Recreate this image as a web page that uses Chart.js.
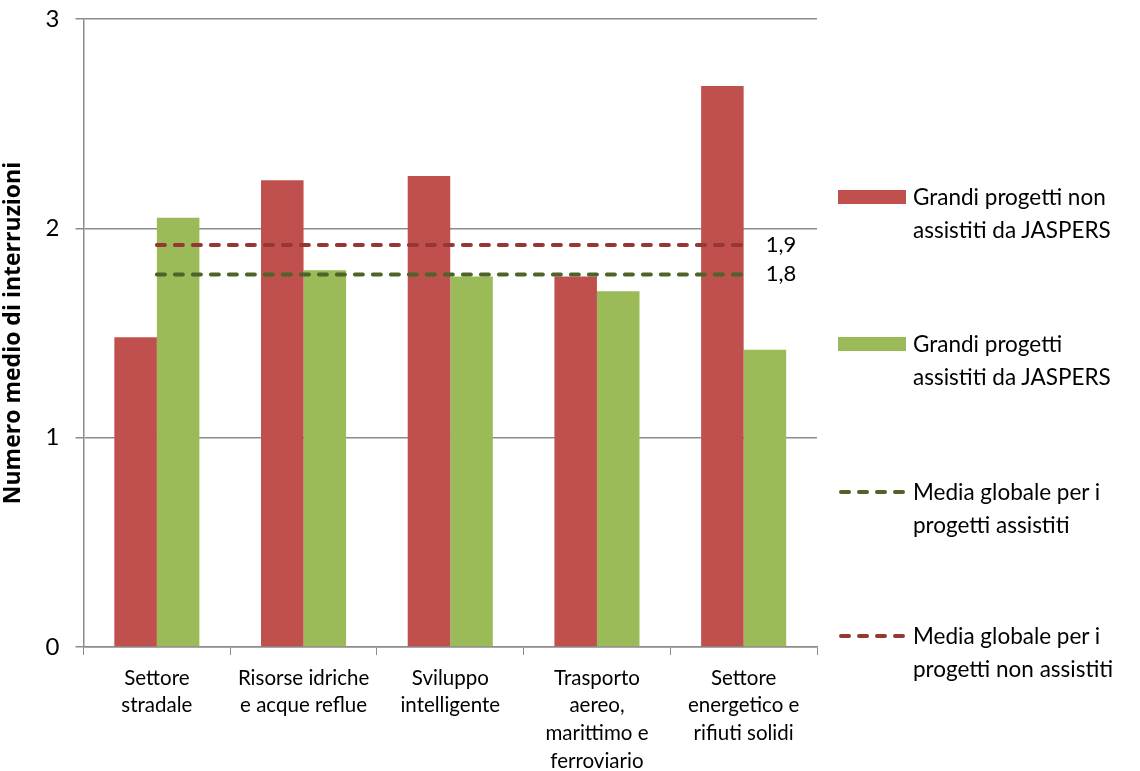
<!DOCTYPE html>
<html lang="it">

<head>
    <meta charset="UTF-8">
    <title>Numero medio di interruzioni</title>
    <script src="https://cdn.jsdelivr.net/npm/chart.js"></script>
    <style>
        body { margin: 0; background: #fff; }
        .wrap { position: relative; width: 1140px; height: 771px; overflow: hidden; }
        .legend { position: absolute; left: 838px; top: 0; font-family: Lato, sans-serif; font-size: 22.5px; color: #000; }
        .legend .item { position: absolute; left: 0; width: 302px; display: flex; align-items: flex-start; }
        .legend .sw { width: 68px; flex: none; margin-right: 7px; }
        .legend .txt { line-height: 33px; white-space: nowrap; }
    </style>
</head>

<body>
    <div class="wrap">
        <canvas id="chart" width="1140" height="771"></canvas>
        <div class="legend" id="legend"></div>
    </div>

    <script>
        // categories and values
        const categories = [
            ['Settore', 'stradale'],
            ['Risorse idriche', 'e acque reflue'],
            ['Sviluppo', 'intelligente'],
            ['Trasporto', 'aereo,', 'marittimo e', 'ferroviario'],
            ['Settore', 'energetico e', 'rifiuti solidi']
        ];
        const nonAssisted = [1.48, 2.23, 2.25, 1.77, 2.68];
        const assisted = [2.05, 1.80, 1.77, 1.70, 1.42];
        const avgAssisted = 1.78;
        const avgNonAssisted = 1.92;
        const yTicks = [0, 1, 2, 3];

        const legendLabels = [
            ['Grandi progetti non', 'assistiti da JASPERS'],
            ['Grandi progetti', 'assistiti da JASPERS'],
            ['Media globale per i', 'progetti assistiti'],
            ['Media globale per i', 'progetti non assistiti']
        ];

        const RED = '#C0504D', GREEN = '#9BBB59';
        const DRED = '#953735', DGREEN = '#4F6228';
        const AXIS = '#8C8C8C';

        // writes "1,9" / "1,8" right after the end of each dashed line
        const endLabels = {
            id: 'endLabels',
            afterDatasetsDraw(chart) {
                const ctx = chart.ctx;
                ctx.save();
                ctx.font = '22px Lato, sans-serif';
                ctx.fillStyle = '#000';
                ctx.textBaseline = 'middle';
                chart.data.datasets.forEach((ds, i) => {
                    if (ds.type !== 'line') return;
                    const pts = chart.getDatasetMeta(i).data;
                    const last = pts[pts.length - 1];
                    const v = ds.data[ds.data.length - 1];
                    ctx.fillText(v.toFixed(1).replace('.', ','), last.x + 22, last.y);
                });
                ctx.restore();
            }
        };

        const ctx = document.getElementById('chart').getContext('2d');
        const chart = new Chart(ctx, {
            type: 'bar',
            data: {
                labels: categories,
                datasets: [
                    {
                        label: legendLabels[0].join(' '),
                        data: nonAssisted,
                        backgroundColor: RED,
                        order: 2
                    },
                    {
                        label: legendLabels[1].join(' '),
                        data: assisted,
                        backgroundColor: GREEN,
                        order: 2
                    },
                    {
                        type: 'line',
                        label: legendLabels[2].join(' '),
                        data: categories.map(() => avgAssisted),
                        borderColor: DGREEN,
                        borderWidth: 4,
                        borderDash: [8, 10],
                        borderCapStyle: 'round',
                        pointRadius: 0,
                        fill: false,
                        order: 1
                    },
                    {
                        type: 'line',
                        label: legendLabels[3].join(' '),
                        data: categories.map(() => avgNonAssisted),
                        borderColor: DRED,
                        borderWidth: 4,
                        borderDash: [8, 10],
                        borderCapStyle: 'round',
                        pointRadius: 0,
                        fill: false,
                        order: 1
                    }
                ]
            },
            options: {
                responsive: false,
                animation: false,
                layout: { padding: { top: 0, right: 323, left: 0, bottom: 0 } },
                datasets: {
                    bar: { barPercentage: 1, categoryPercentage: 0.58 }
                },
                plugins: {
                    legend: { display: false },
                    tooltip: { enabled: false }
                },
                scales: {
                    x: {
                        // Excel lets the last label line run off the bottom edge
                        afterFit: axis => { axis.height = 124; },
                        grid: { drawOnChartArea: false, drawTicks: true, tickLength: 8, color: AXIS },
                        border: { color: AXIS, width: 1.5 },
                        ticks: {
                            color: '#000',
                            font: { family: 'Lato', size: 20.5, lineHeight: 1.36 },
                            padding: 9,
                            maxRotation: 0,
                            autoSkip: false
                        }
                    },
                    y: {
                        min: 0,
                        max: 3,
                        afterBuildTicks: axis => { axis.ticks = yTicks.map(v => ({ value: v })); },
                        grid: { color: AXIS, lineWidth: 1.5, tickLength: 8 },
                        border: { color: AXIS, width: 1.5 },
                        ticks: {
                            color: '#000',
                            font: { family: 'Lato', size: 24, lineHeight: 0.25 },
                            padding: 16
                        },
                        title: {
                            display: true,
                            text: 'Numero medio di interruzioni',
                            color: '#000',
                            font: { family: 'Open Sans', size: 23, weight: 'bold' },
                            padding: { top: 0, bottom: 2 }
                        }
                    }
                }
            },
            plugins: [endLabels]
        });

        // legend to the right, built from the dataset styles
        const legendTops = [180, 327, 475, 619];
        const legend = document.getElementById('legend');
        chart.data.datasets.forEach((ds, i) => {
            const item = document.createElement('div');
            item.className = 'item';
            item.style.top = legendTops[i] + 'px';
            let sw;
            if (ds.type === 'line') {
                sw = `<svg class="sw" width="68" height="33"><line x1="3" y1="17" x2="66" y2="17" stroke="${ds.borderColor}" stroke-width="4" stroke-linecap="round" stroke-dasharray="8 10"/></svg>`;
            } else {
                sw = `<div class="sw" style="height:14px;margin-top:10px;background:${ds.backgroundColor}"></div>`;
            }
            item.innerHTML = sw + '<div class="txt">' + legendLabels[i].join('<br>') + '</div>';
            legend.appendChild(item);
        });
    </script>
</body>

</html>
